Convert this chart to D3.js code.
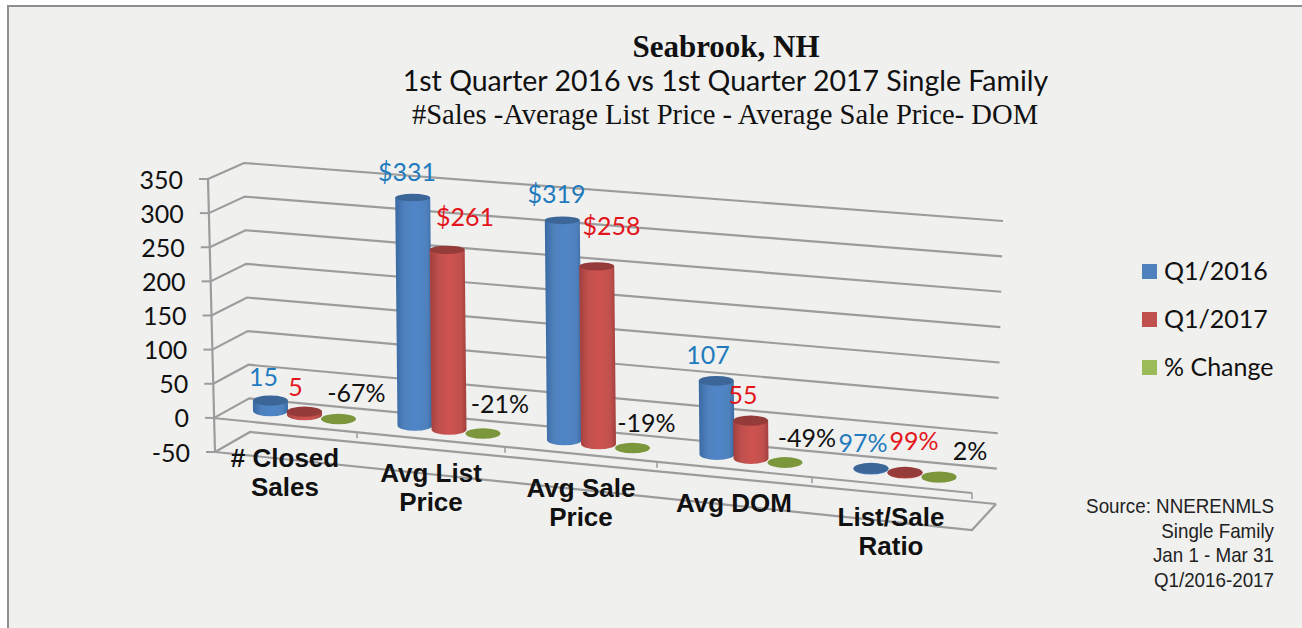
<!DOCTYPE html>
<html>
<head>
<meta charset="utf-8">
<title>Seabrook, NH</title>
<script src="https://cdn.jsdelivr.net/npm/d3@7"></script>
<style>
body { margin: 0; background: #fff; }
svg { display: block; }
</style>
</head>
<body>
<div id="chart-area"></div>
<script>
/*
*    main.js - 3D style cylinder chart
*/
var categories = [["# Closed", "Sales"], ["Avg List", "Price"], ["Avg Sale", "Price"], ["Avg DOM"], ["List/Sale", "Ratio"]];
var seriesNames = ["Q1/2016", "Q1/2017", "% Change"];
var q12016 = [15, 331, 319, 107, 0.97];
var q12017 = [5, 261, 258, 55, 0.99];
var pctChange = [-0.67, -0.21, -0.19, -0.49, 0.02];
var yTicks = [-50, 0, 50, 100, 150, 200, 250, 300, 350];
var prefixes = ["", "$", "$", "", ""];
var sourceLines = ["Source: NNERENMLS", "Single Family", "Jan 1 - Mar 31", "Q1/2016-2017"];

var width = 1302;
var height = 628;

var svg = d3.select("#chart-area").append("svg")
    .attr("width", width)
    .attr("height", height);

var defs = svg.append("defs");

// frame
svg.append("rect").attr("x", 8).attr("y", 6).attr("width", width).attr("height", height)
    .attr("fill", "#f0f0ef").attr("stroke", "#8e8e8e").attr("stroke-width", 2);

// titles
var titles = [
    {t: "Seabrook, NH", y: 57, f: "'Liberation Serif'", s: 31, w: "bold", x: 726},
    {t: "1st Quarter 2016 vs 1st Quarter 2017 Single Family", y: 91, f: "Lato", s: 28.5, w: "normal", x: 725.5},
    {t: "#Sales -Average List Price - Average Sale Price- DOM", y: 124, f: "'Liberation Serif'", s: 28.6, w: "normal", x: 725}
];
svg.selectAll("text.title").data(titles).enter().append("text")
    .attr("class", "title")
    .attr("x", (d) => d.x)
    .attr("y", (d) => d.y)
    .attr("text-anchor", "middle")
    .attr("font-family", (d) => d.f)
    .attr("font-size", (d) => d.s)
    .attr("font-weight", (d) => d.w)
    .attr("fill", "#111")
    .text((d) => d.t);

// the corners of the tilted box, each a scale on the value
var frontX = d3.scaleLinear().domain([-50, 350]).range([215, 208]);
var frontY = d3.scaleLinear().domain([-50, 350]).range([452, 179]);
var backX = d3.scaleLinear().domain([-50, 350]).range([250, 244]);
var backY = d3.scaleLinear().domain([-50, 350]).range([432, 163]);
var rightX = d3.scaleLinear().domain([-50, 350]).range([996, 1003]);
var rightY = d3.scaleLinear().domain([-50, 350]).range([504, 221]);

var gridColor = "#9c9c9c";
var line = d3.line();

var grid = svg.append("g").attr("fill", "none").attr("stroke", gridColor).attr("stroke-width", 2.2);

grid.selectAll("path.wall").data(yTicks).enter().append("path")
    .attr("class", "wall")
    .attr("d", (d) => line([[frontX(d), frontY(d)], [backX(d), backY(d)], [rightX(d), rightY(d)]]));

// floor front edge
grid.append("path").attr("d", line([
    [frontX(-50), frontY(-50)], [972, 530], [rightX(-50), rightY(-50)]
]));

// value axis
var yAxis = d3.axisLeft(frontY).tickValues(yTicks).tickSize(9).tickPadding(16)
    .tickFormat((d) => String(d));
var yAxisGroup = svg.append("g").call(yAxis);
yAxisGroup.select(".domain").remove();
yAxisGroup.selectAll(".tick")
    .attr("transform", (d) => "translate(" + frontX(d) + "," + frontY(d) + ")");
yAxisGroup.selectAll(".tick line").attr("stroke", gridColor).attr("stroke-width", 2);
yAxisGroup.selectAll(".tick text")
    .attr("dy", "0.38em")
    .attr("font-family", "Lato")
    .attr("font-size", 25)
    .attr("fill", "#111");
svg.append("path").attr("fill", "none").attr("stroke", gridColor).attr("stroke-width", 2.2)
    .attr("d", line([[frontX(350), frontY(350)], [frontX(-50), frontY(-50)]]));

// zero plane front edge and its category ticks
var tickX = d3.scaleLinear().domain([0, 1, 2, 3, 4, 5]).range([213, 357, 505, 657, 812, 972]);
var zeroY = d3.scaleLinear().domain([213, 972]).range([418, 493]);
grid.append("path").attr("d", line([[tickX(0), zeroY(tickX(0))], [tickX(5), zeroY(tickX(5))]]));
svg.append("g").attr("stroke", gridColor).attr("stroke-width", 1.5)
    .selectAll("line").data(d3.range(1, 6)).enter().append("line")
    .attr("x1", (d) => tickX(d))
    .attr("x2", (d) => tickX(d))
    .attr("y1", (d) => zeroY(tickX(d)))
    .attr("y2", (d) => zeroY(tickX(d)) + 6);

// bars
var x = d3.scaleLinear().domain([0, 1, 2, 3, 4]).range([304.5, 449, 598.5, 751, 905]);
var baseY = d3.scaleLinear().domain([0, 4]).range([415, 473]);
var seriesX = d3.scalePoint().domain(seriesNames).range([-34, 34]);
var seriesY = d3.scalePoint().domain(seriesNames).range([-4, 4]);
var barH = d3.scaleLinear().domain([0, 350]).range([0, 241]);
var ryScale = d3.scaleLinear().domain([200, 470]).range([3.8, 5.5]);
var rx = 17.5;

var seriesColor = d3.scaleOrdinal().domain(seriesNames).range(["#4f81bd", "#c0504d", "#9bbb59"]);
var edgeColor = d3.scaleOrdinal().domain(seriesNames).range(["#3a6aa3", "#a23f3d", "#7c963c"]);
var lightColor = d3.scaleOrdinal().domain(seriesNames).range(["#4f85c8", "#ce5350", "#9bbb59"]);
var topColor = d3.scaleOrdinal().domain(seriesNames).range(["#3c6698", "#953b3a", "#7c963c"]);
var labelColor = d3.scaleOrdinal().domain(seriesNames).range(["#1f7bbd", "#e3161b", "#111"]);

seriesNames.forEach((s, i) => {
    var grad = defs.append("linearGradient").attr("id", "cyl" + i);
    grad.append("stop").attr("offset", "0%").attr("stop-color", edgeColor(s));
    grad.append("stop").attr("offset", "25%").attr("stop-color", seriesColor(s));
    grad.append("stop").attr("offset", "55%").attr("stop-color", lightColor(s));
    grad.append("stop").attr("offset", "85%").attr("stop-color", seriesColor(s));
    grad.append("stop").attr("offset", "100%").attr("stop-color", edgeColor(s));
});

var seriesValues = [q12016, q12017, pctChange];

// label nudges from the top of each bar: series then category
var labelNudge = [
    [[-7, -23], [-8, -24.5], [-8, -25.5], [-9, -25], [-8, -24]],
    [[-9, -24], [16, -32], [13, -39.5], [-8, -25], [9, -30]],
    [[18, -25], [17, -29], [14, -24], [22, -24], [31, -25]]
];

var formatLabel = function (v, si, ci) {
    if (si === 2 || ci === 4) { return d3.format(".0%")(v).replace("\u2212", "-"); }
    return prefixes[ci] + v;
};

var marks = [];
seriesNames.forEach((s, si) => {
    seriesValues[si].forEach((v, ci) => {
        var cx = x(ci) + seriesX(s);
        var yb = baseY(ci) + seriesY(s);
        var h = Math.max(barH(v), 0);
        var yt = yb - h;
        marks.push({s: s, si: si, ci: ci, v: v, cx: cx, yb: yb, yt: yt, lean: h * 0.01});
    });
});
marks.sort((a, b) => d3.ascending(a.ci, b.ci) || d3.ascending(a.si, b.si));

var bars = svg.append("g");

bars.selectAll("path.side").data(marks.filter((d) => d.yb - d.yt > 0)).enter().append("path")
    .attr("class", "side")
    .attr("fill", (d) => "url(#cyl" + d.si + ")")
    .attr("d", (d) => {
        var ry = ryScale(d.yb);
        return "M" + (d.cx - d.lean - rx) + "," + d.yt +
            "L" + (d.cx - rx) + "," + d.yb +
            "A" + rx + "," + ry + " 0 0 0 " + (d.cx + rx) + "," + d.yb +
            "L" + (d.cx - d.lean + rx) + "," + d.yt + "Z";
    });

bars.selectAll("ellipse").data(marks).enter().append("ellipse")
    .attr("cx", (d) => d.cx - d.lean)
    .attr("cy", (d) => d.yt)
    .attr("rx", rx)
    .attr("ry", (d) => ryScale(d.yt))
    .attr("fill", (d) => topColor(d.s));

// category labels
var catCx = [285, 431, 581, 734, 891];
var catY = [467, 482, 497, 512, 526];
var catText = svg.append("g").selectAll("text").data(categories).enter().append("text")
    .attr("text-anchor", "middle")
    .attr("font-family", "'Liberation Sans'")
    .attr("font-weight", "bold")
    .attr("font-size", 26)
    .attr("fill", "#111");
catText.each(function (d, i) {
    d3.select(this).selectAll("tspan").data(d).enter().append("tspan")
        .attr("x", catCx[i])
        .attr("y", (t, j) => catY[i] + j * 28.5)
        .text((t) => t);
});

// value labels
svg.append("g").selectAll("text").data(marks).enter().append("text")
    .attr("x", (d) => d.cx + labelNudge[d.si][d.ci][0])
    .attr("y", (d) => d.yt + labelNudge[d.si][d.ci][1] + 8)
    .attr("text-anchor", "middle")
    .attr("font-family", "Lato")
    .attr("font-size", 25)
    .attr("fill", (d) => labelColor(d.s))
    .text((d) => formatLabel(d.v, d.si, d.ci));

// legend
var legendY = d3.scalePoint().domain(seriesNames).range([271, 367]);
var legend = svg.append("g").selectAll("g").data(seriesNames).enter().append("g")
    .attr("transform", (d) => "translate(1142," + legendY(d) + ")");
legend.append("rect").attr("x", 0).attr("y", -7).attr("width", 15).attr("height", 15)
    .attr("fill", (d) => seriesColor(d));
legend.append("text").attr("x", 22).attr("y", 8.5)
    .attr("font-family", "Lato")
    .attr("font-size", 25)
    .attr("fill", "#111")
    .text((d) => d);

// source note, squeezed a little to fit the narrow original
svg.append("g").attr("transform", "translate(1274,0) scale(0.94,1)")
    .selectAll("text").data(sourceLines).enter().append("text")
    .attr("x", 0)
    .attr("y", (d, i) => 513 + i * 24.6)
    .attr("text-anchor", "end")
    .attr("font-family", "'Liberation Sans'")
    .attr("font-size", 20)
    .attr("fill", "#222")
    .text((d) => d);
</script>
</body>
</html>
